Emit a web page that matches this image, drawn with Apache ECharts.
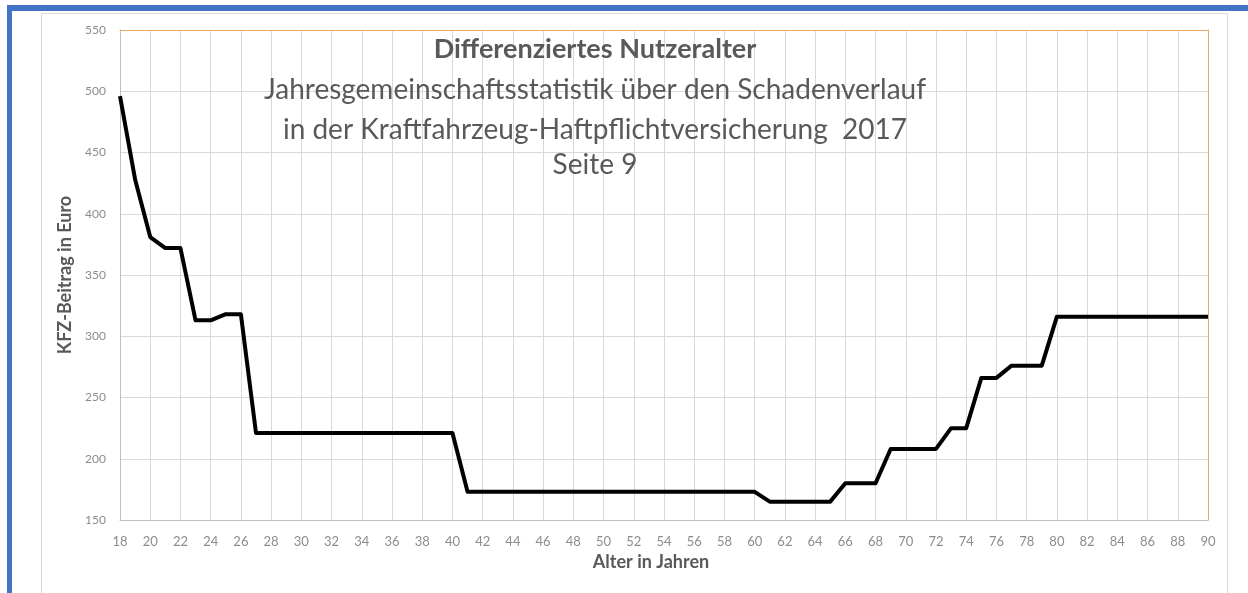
<!DOCTYPE html>
<html>
<head>
<meta charset="utf-8">
<script src="https://cdn.jsdelivr.net/npm/echarts@6/dist/echarts.min.js"></script>
<style>
  html, body { margin: 0; padding: 0; background: #fff; }
  #main { width: 1248px; height: 593px; }
</style>
</head>
<body>
<div id="main"></div>
<script>
// Alter (Jahre) und KFZ-Beitrag in Euro
const ages = [18, 19, 20, 21, 22, 23, 24, 25, 26, 27, 28, 29, 30, 31, 32, 33, 34, 35, 36, 37, 38, 39, 40,
  41, 42, 43, 44, 45, 46, 47, 48, 49, 50, 51, 52, 53, 54, 55, 56, 57, 58, 59, 60,
  61, 62, 63, 64, 65, 66, 67, 68, 69, 70, 71, 72, 73, 74, 75, 76, 77, 78, 79,
  80, 81, 82, 83, 84, 85, 86, 87, 88, 89, 90];
const beitrag = [496, 428, 381, 372, 372, 313, 313, 318, 318, 221, 221, 221, 221, 221, 221, 221, 221, 221, 221, 221, 221, 221, 221,
  173, 173, 173, 173, 173, 173, 173, 173, 173, 173, 173, 173, 173, 173, 173, 173, 173, 173, 173, 173,
  165, 165, 165, 165, 165, 180, 180, 180, 208, 208, 208, 208, 225, 225, 266, 266, 276, 276, 276,
  316, 316, 316, 316, 316, 316, 316, 316, 316, 316, 316];
const titleLines = [
  'Jahresgemeinschaftsstatistik über den Schadenverlauf',
  'in der Kraftfahrzeug-Haftpflichtversicherung  2017',
  'Seite 9'
];
const titleTops = [71, 111, 146];

const myChart = echarts.init(document.getElementById('main'));
const font = 'Lato, "Open Sans", sans-serif';
const orange = '#f0a860';

myChart.setOption({
  animation: false,
  backgroundColor: '#fff',
  graphic: [
    // blauer Rahmen
    { type: 'rect', shape: { x: 7, y: 5, width: 1241, height: 6 }, style: { fill: '#4472c4' } },
    { type: 'rect', shape: { x: 7, y: 5, width: 5, height: 588 }, style: { fill: '#4472c4' } },
    // Diagrammbereich
    { type: 'rect', z: -1, shape: { x: 41.5, y: 13.5, width: 1186, height: 590 },
      style: { fill: '#fff', stroke: '#d9d9d9', lineWidth: 1 } }
  ],
  title: [
    {
      text: 'Differenziertes Nutzeralter',
      left: 590, top: 31, textAlign: 'center',
      textStyle: { fontFamily: font, fontSize: 27, fontWeight: 'bold', color: '#595959' }
    },
    ...titleLines.map((t, i) => ({
      text: t,
      left: 590, top: titleTops[i], textAlign: 'center',
      textStyle: { fontFamily: font, fontSize: 28, fontWeight: 'normal', color: '#595959' }
    }))
  ],
  grid: { left: 120, right: 40, top: 30, bottom: 73 },
  xAxis: [{
    type: 'value',
    min: 18, max: 90, interval: 2,
    name: 'Alter in Jahren',
    nameLocation: 'middle',
    nameGap: 32,
    nameTextStyle: { fontFamily: font, fontSize: 18, fontWeight: 'bold', color: '#595959', padding: [0, 26, 0, 0] },
    axisLine: { show: true, lineStyle: { color: '#bfbfbf' } },
    axisTick: { show: false },
    axisLabel: { fontFamily: font, fontSize: 13, color: '#8c8c8c', margin: 15 },
    splitLine: { show: true, lineStyle: { color: '#d9d9d9' } }
  }, {
    type: 'value', position: 'top',
    min: 18, max: 90, interval: 2,
    axisLine: { show: true, lineStyle: { color: orange } },
    axisTick: { show: false }, axisLabel: { show: false }, splitLine: { show: false }
  }],
  yAxis: [{
    type: 'value',
    min: 150, max: 550, interval: 50,
    name: 'KFZ-Beitrag in Euro',
    nameLocation: 'middle',
    nameGap: 43,
    nameTextStyle: { fontFamily: font, fontSize: 18, fontWeight: 'bold', color: '#595959' },
    axisLine: { show: true, lineStyle: { color: '#bfbfbf' } },
    axisTick: { show: false },
    axisLabel: { fontFamily: font, fontSize: 12, color: '#8c8c8c', margin: 14 },
    splitLine: { show: true, lineStyle: { color: '#d9d9d9' } }
  }, {
    type: 'value', position: 'right',
    min: 150, max: 550, interval: 50,
    axisLine: { show: true, lineStyle: { color: orange } },
    axisTick: { show: false }, axisLabel: { show: false }, splitLine: { show: false }
  }],
  series: [{
    type: 'line',
    data: ages.map((a, i) => [a, beitrag[i]]),
    showSymbol: false,
    lineStyle: { color: '#000', width: 4, join: 'round' }
  }]
});
</script>
</body>
</html>
